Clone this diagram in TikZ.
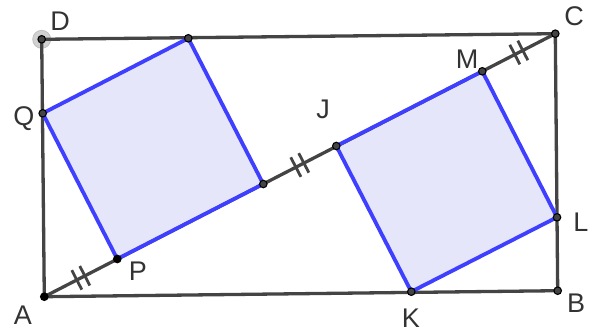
\documentclass[tikz,border=0pt]{standalone}
\usepackage{fontspec}
\setmainfont{Liberation Sans}
\usetikzlibrary{calc}
\definecolor{edgegray}{HTML}{444444}
\definecolor{sqblue}{HTML}{3F3FFF}
\definecolor{sqfill}{HTML}{E6E6FB}
\definecolor{labgray}{HTML}{333333}
\tikzset{
  rectline/.style={draw=edgegray, line width=3.3pt},
  sqline/.style={draw=sqblue, line width=3.8pt, line join=round},
  sqarea/.style={fill=sqfill},
  tickline/.style={draw=edgegray, line width=2.8pt},
  ptdot/.style={circle, inner sep=0pt, minimum size=7.5pt, fill=edgegray, draw=black, line width=1.1pt},
  ptblack/.style={ptdot, fill=black},
  halo/.style={circle, inner sep=0pt, minimum size=18pt, fill=black!18, draw=black!25, line width=0.8pt},
  lab/.style={text=labgray, font=\fontsize{27}{27}\selectfont, inner sep=0pt}
}
\newcommand\dblticks[2]{%
  \coordinate (tm) at ($(#1)!0.5!(#2)$);
  \coordinate (tc1) at ($(tm)!4.5pt!(#1)$);
  \coordinate (tc2) at ($(tm)!4.5pt!(#2)$);
  \draw[tickline] ($(tc1)!11pt!90:(#2)$) -- ($(tc1)!11pt!-90:(#2)$);
  \draw[tickline] ($(tc2)!11pt!90:(#2)$) -- ($(tc2)!11pt!-90:(#2)$);
}
\begin{document}
\begin{tikzpicture}[x=1pt,y=-1pt]
\useasboundingbox (0,0) rectangle (592,334);
% positions
\coordinate (A) at (44.3,296.7);
\coordinate (B) at (557.7,290.7);
\coordinate (C) at (555.3,33.7);
\coordinate (D) at (41.7,39.3);
\coordinate (Q) at (42.7,113.3);
\coordinate (R) at (188.3,38.3);
\coordinate (S) at (263.3,184);
\coordinate (P) at (117.3,259);
\coordinate (J) at (336.3,146);
\coordinate (M) at (482.3,71.3);
\coordinate (L) at (557,217.3);
\coordinate (K) at (411.3,291.7);
% square fills
\fill[sqarea] (Q) -- (R) -- (S) -- (P) -- cycle;
\fill[sqarea] (J) -- (M) -- (L) -- (K) -- cycle;
% halo at D
\node[halo] (hD) at (D) {};
% rectangle and diagonal
\draw[rectline, line join=round] (A) -- (B) -- (C) -- (D) -- cycle;
\draw[rectline] (A) -- (C);
% ticks
\dblticks{A}{P}
\dblticks{S}{J}
\dblticks{M}{C}
% square edges
\draw[sqline] (Q) -- (R) -- (S) -- (P) -- cycle;
\draw[sqline] (J) -- (M) -- (L) -- (K) -- cycle;
% points
\node[ptblack] (pA) at (A) {};
\node[ptdot] (pB) at (B) {};
\node[ptdot] (pC) at (C) {};
\node[ptdot] (pD) at (D) {};
\node[ptdot] (pQ) at (Q) {};
\node[ptdot] (pR) at (R) {};
\node[ptdot] (pS) at (S) {};
\node[ptblack] (pP) at (P) {};
\node[ptdot] (pJ) at (J) {};
\node[ptdot] (pM) at (M) {};
\node[ptdot] (pL) at (L) {};
\node[ptdot] (pK) at (K) {};
% labels
\node[lab] (lD) at (60,21) {D};
\node[lab] (lQ) at (24,119) {Q};
\node[lab] (lA) at (23,315) {A};
\node[lab] (lP) at (138,271) {P};
\node[lab] (lJ) at (323,109) {J};
\node[lab] (lM) at (467,59) {M};
\node[lab] (lC) at (574,16) {C};
\node[lab] (lL) at (581,222) {L};
\node[lab] (lB) at (576,303) {B};
\node[lab] (lK) at (411,318) {K};
\end{tikzpicture}
\end{document}
